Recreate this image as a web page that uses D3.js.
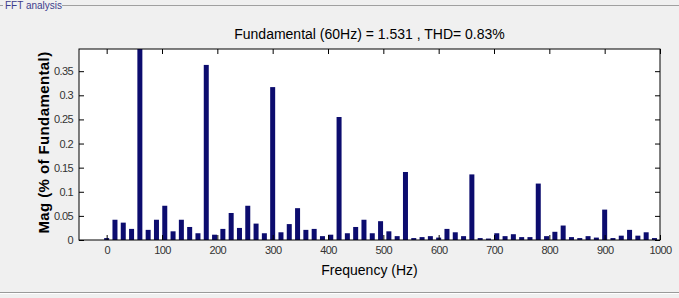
<!DOCTYPE html>
<html>
<head>
<meta charset="utf-8">
<script src="https://cdn.jsdelivr.net/npm/d3@7"></script>
<style>
  body { margin: 0; background: #f0f0f0; }
  svg { display: block; }
</style>
</head>
<body>
<svg id="fft" width="679" height="298"></svg>
<script>
// FFT spectrum, step 15 Hz, values in % of fundamental
const freqs = d3.range(0, 991, 15)
const mags = [
  0.004, 0.042, 0.036, 0.023, 100, 0.021, 0.042, 0.071, 0.018, 0.042,
  0.027, 0.014, 0.363, 0.011, 0.023, 0.056, 0.025, 0.071, 0.034, 0.014,
  0.317, 0.016, 0.033, 0.066, 0.021, 0.023, 0.008, 0.011, 0.255, 0.014,
  0.027, 0.042, 0.014, 0.039, 0.018, 0.008, 0.141, 0.004, 0.006, 0.008,
  0.005, 0.023, 0.016, 0.008, 0.136, 0.004, 0.003, 0.014, 0.008, 0.012,
  0.006, 0.006, 0.117, 0.008, 0.017, 0.030, 0.006, 0.004, 0.008, 0.005,
  0.063, 0.004, 0.009, 0.021, 0.009, 0.016, 0.004
]
const xTicks = [0, 100, 200, 300, 400, 500, 600, 700, 800, 900, 1000]
const yTicks = [0, 0.05, 0.1, 0.15, 0.2, 0.25, 0.3, 0.35]
const title = 'Fundamental (60Hz) = 1.531 , THD= 0.83%'

const svg = d3.select('#fft')
const margin = { top: 49, right: 19, bottom: 58, left: 79 }
const width = +svg.attr('width') - margin.left - margin.right
const height = +svg.attr('height') - margin.top - margin.bottom

// panel frame
svg.append('line').attr('x1', 62).attr('x2', 679).attr('y1', 5.5).attr('y2', 5.5)
  .attr('stroke', '#a0a0a0')
svg.append('line').attr('x1', 0).attr('x2', 3).attr('y1', 5.5).attr('y2', 5.5)
  .attr('stroke', '#a0a0a0')
svg.append('text').attr('x', 5).attr('y', 9).text('FFT analysis')
  .attr('font-family', 'Liberation Sans, Arial').attr('font-size', 10).attr('fill', '#3c3c8c')
svg.append('line').attr('x1', 0).attr('x2', 679).attr('y1', 292.5).attr('y2', 292.5)
  .attr('stroke', '#9a9a9a')
svg.append('line').attr('x1', 0).attr('x2', 679).attr('y1', 293.5).attr('y2', 293.5)
  .attr('stroke', '#ffffff')

const g = svg.append('g').attr('transform', 'translate(' + margin.left + ',' + margin.top + ')')

const x = d3.scaleLinear().domain([-50, 1000]).range([0, width])
const y = d3.scaleLinear().domain([0, 0.396]).range([height, 0])

g.append('rect').attr('width', width).attr('height', height).attr('fill', '#ffffff')

g.append('clipPath').attr('id', 'clip')
  .append('rect').attr('width', width).attr('height', height)

// bars
const barW = 5
g.append('g').attr('clip-path', 'url(#clip)')
  .selectAll('rect')
  .data(freqs.map((f, i) => ({ f: f, m: mags[i] })))
  .join('rect')
  .attr('x', (d) => x(d.f) - barW / 2)
  .attr('width', barW)
  .attr('y', (d) => y(d.m))
  .attr('height', (d) => height - y(d.m))
  .attr('fill', '#0c0c6e')

// axes, ticks inside like matlab
const axisStyle = (sel) => {
  sel.select('.domain').remove()
  sel.selectAll('line').attr('stroke', '#000')
  sel.selectAll('text').attr('font-family', 'Liberation Sans, Arial')
    .attr('font-size', 11).attr('letter-spacing', -0.6).attr('fill', '#333')
}
g.append('g').attr('transform', `translate(0, ${height})`)
  .call(d3.axisBottom(x).tickValues(xTicks).tickSizeInner(-5).tickSizeOuter(0).tickPadding(6)
    .tickFormat(d3.format('d')))
  .call(axisStyle)
g.append('g')
  .call(d3.axisTop(x).tickValues(xTicks).tickSizeInner(-5).tickSizeOuter(0).tickFormat(''))
  .call(axisStyle)
g.append('g')
  .call(d3.axisLeft(y).tickValues(yTicks).tickSizeInner(-5).tickSizeOuter(0).tickPadding(6)
    .tickFormat((d) => String(+d.toFixed(2))))
  .call(axisStyle)
g.append('g').attr('transform', `translate(${width}, 0)`)
  .call(d3.axisRight(y).tickValues(yTicks).tickSizeInner(-5).tickSizeOuter(0).tickFormat(''))
  .call(axisStyle)

g.append('rect').attr('width', width).attr('height', height)
  .attr('fill', 'none').attr('stroke', '#000')

// labels
g.append('text').attr('x', width / 2).attr('y', -10).attr('text-anchor', 'middle')
  .attr('font-family', 'Liberation Sans, Arial').attr('font-size', 14).text(title)
g.append('text').attr('x', width / 2).attr('y', height + 35).attr('text-anchor', 'middle')
  .attr('font-family', 'Liberation Sans, Arial').attr('font-size', 14).text('Frequency (Hz)')
g.append('text').attr('transform', `translate(-30, ${height / 2 - 2}) rotate(-90)`)
  .attr('text-anchor', 'middle').attr('font-family', 'Liberation Sans, Arial')
  .attr('font-size', 15).attr('font-weight', 'bold').attr('letter-spacing', 0.4)
  .text('Mag (% of Fundamental)')
</script>
</body>
</html>
